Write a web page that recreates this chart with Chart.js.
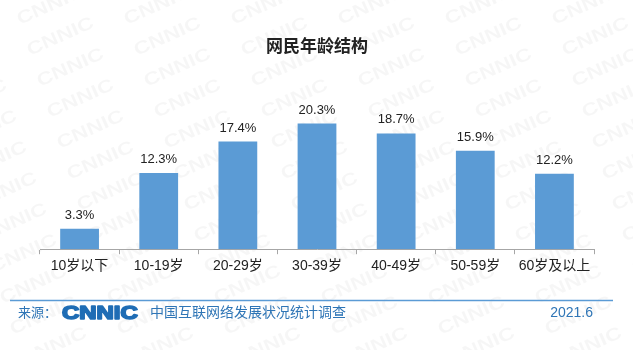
<!DOCTYPE html>
<html>
<head>
<meta charset="utf-8">
<script src="https://cdn.jsdelivr.net/npm/chart.js@4"></script>
<style>
  html, body { margin: 0; padding: 0; background: #fff; }
  #wrap { width: 633px; height: 350px; position: relative; }
</style>
</head>
<body>
<div id="wrap"><canvas id="age-chart" width="633" height="350"></canvas></div>
<script>
// chart data
const categories = ['10岁以下', '10-19岁', '20-29岁', '30-39岁', '40-49岁', '50-59岁', '60岁及以上'];
const shares = [3.3, 12.3, 17.4, 20.3, 18.7, 15.9, 12.2];
const chartTitle = '网民年龄结构';
const sourceLabel = '来源：';
const sourceName = '中国互联网络发展状况统计调查';
const dateLabel = '2021.6';

const cjk = '"Liberation Sans", "Noto Sans CJK SC", sans-serif';
const blue = '#2e75b6';

// faint "CNNIC" watermark behind everything
const watermark = {
  id: 'watermark',
  beforeDraw(chart) {
    const ctx = chart.ctx;
    ctx.save();
    ctx.fillStyle = 'rgba(0,0,0,0.035)';
    ctx.font = 'bold 18px "Liberation Sans", sans-serif';
    for (let row = 0; row < 13; row++) {
      for (let col = -3; col < 7; col++) {
        const x = col * 107 + row * 10 + 20;
        const y = row * 31 + 25;
        ctx.save();
        ctx.translate(x, y);
        ctx.rotate(-0.42);
        ctx.scale(1.25, 1);
        ctx.fillText('CNNIC', 0, 0);
        ctx.restore();
      }
    }
    ctx.restore();
  }
};

// value labels above bars + footer
const extras = {
  id: 'extras',
  afterDatasetsDraw(chart) {
    const ctx = chart.ctx;
    const meta = chart.getDatasetMeta(0);
    ctx.save();
    ctx.font = '13px ' + cjk;
    ctx.fillStyle = '#222';
    ctx.textAlign = 'center';
    ctx.textBaseline = 'bottom';
    meta.data.forEach((bar, i) => {
      ctx.fillText(shares[i].toFixed(1) + '%', bar.x, bar.y - 7);
    });
    ctx.restore();
  },
  afterDraw(chart) {
    const ctx = chart.ctx;
    ctx.save();
    // footer rule
    ctx.strokeStyle = '#5b9bd5';
    ctx.lineWidth = 1.5;
    ctx.beginPath();
    ctx.moveTo(10, 300.5);
    ctx.lineTo(613, 300.5);
    ctx.stroke();

    ctx.textBaseline = 'middle';
    ctx.fillStyle = blue;
    ctx.font = '13px ' + cjk;
    ctx.fillText(sourceLabel, 18, 313);

    // logo
    ctx.save();
    ctx.fillStyle = '#1f6db5';
    ctx.strokeStyle = '#1f6db5';
    ctx.lineWidth = 1.6;
    ctx.lineJoin = 'round';
    ctx.font = 'bold 18px "Liberation Sans", sans-serif';
    ctx.translate(62, 314);
    ctx.scale(1.33, 1);
    ctx.fillText('CNNIC', 0, 0);
    ctx.strokeText('CNNIC', 0, 0);
    ctx.restore();

    ctx.fillStyle = blue;
    ctx.font = '14px ' + cjk;
    ctx.fillText(sourceName, 150, 313);
    ctx.textAlign = 'right';
    ctx.fillText(dateLabel, 593, 313);
    ctx.restore();
  }
};

const ctx = document.getElementById('age-chart').getContext('2d');
new Chart(ctx, {
  type: 'bar',
  data: {
    labels: categories,
    datasets: [{
      data: shares,
      backgroundColor: '#5b9bd5',
      borderWidth: 0,
      categoryPercentage: 1,
      barPercentage: 0.49
    }]
  },
  options: {
    responsive: false,
    animation: false,
    layout: { padding: { left: 40, right: 39, top: 0, bottom: 71 } },
    plugins: {
      legend: { display: false },
      tooltip: { enabled: false },
      title: {
        display: true,
        text: chartTitle,
        color: '#222',
        font: { size: 17, weight: 'bold', family: '"Noto Sans CJK SC", sans-serif' },
        padding: { top: 35, bottom: 39 }
      }
    },
    scales: {
      x: {
        grid: {
          display: true,
          drawOnChartArea: false,
          offset: true,
          tickLength: 5,
          color: '#a6a6a6'
        },
        border: { color: '#a6a6a6', width: 1 },
        ticks: {
          color: '#222',
          padding: 4,
          font: { size: 14, family: cjk }
        }
      },
      y: {
        display: false,
        min: 0,
        max: 25
      }
    }
  },
  plugins: [watermark, extras]
});
</script>
</body>
</html>
